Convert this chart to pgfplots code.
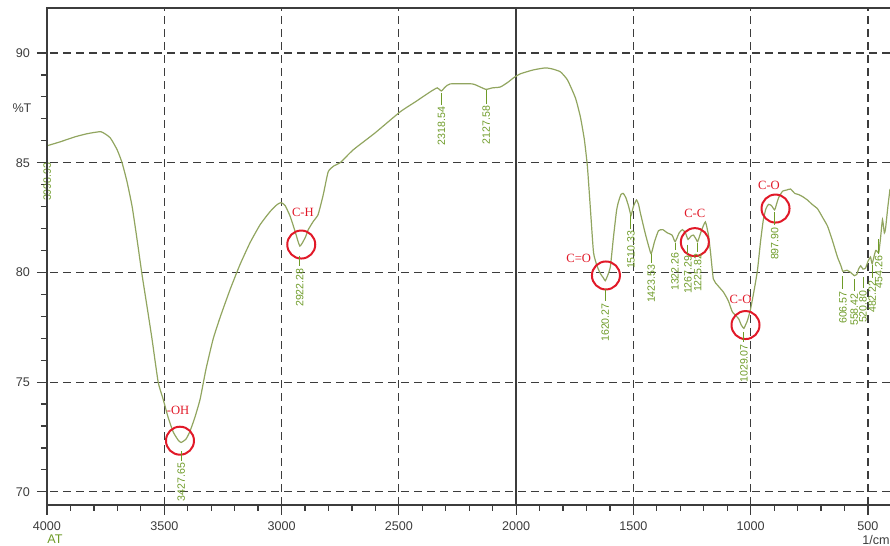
\documentclass[border=0pt]{standalone}
\usepackage{fontspec}
\setmainfont{Liberation Sans}
\newfontfamily\bandfont{Liberation Serif}
\usepackage{pgfplots}
\pgfplotsset{compat=1.18}

\definecolor{spectrum}{RGB}{145,165,95}
\definecolor{peakgreen}{RGB}{110,155,40}
\definecolor{ringred}{RGB}{225,25,40}
\definecolor{gridgray}{RGB}{60,60,60}
\definecolor{axisgray}{RGB}{60,60,60}

% peak marker: wavenumber, top and bottom of leader line, label
\newcommand{\pk}[4]{\draw[peakgreen,line width=0.5pt] (axis cs:#1,#2) -- (axis cs:#1,#3)
  node[anchor=east,rotate=90,font=\fontsize{5.3}{6}\selectfont,inner sep=0.8pt,text=peakgreen]{#4};}
% band assignment text
\newcommand{\band}[3]{\node[font=\bandfont\fontsize{6.3}{7}\selectfont,text=ringred,inner sep=0pt] at (axis cs:#1,#2) {#3};}

\begin{document}
\begin{tikzpicture}
\begin{axis}[
  scale only axis, width=421.5pt, height=248.5pt,
  x dir=reverse, xmin=406, xmax=4000, ymin=69.4, ymax=92.05,
  xtick={500,1000,...,4000}, ytick={70,75,...,90},
  minor x tick num=4, minor y tick num=4,
  xtick pos=bottom, ytick pos=left, tick align=outside,
  major tick length=5pt, minor tick length=3pt,
  every tick/.style={axisgray, line width=0.6pt},
  grid=major,
  major grid style={gridgray, dash pattern=on 4pt off 2.5pt, line width=0.6pt},
  axis line style={draw=none},
  tick label style={font=\fontsize{6.3}{7}\selectfont, text=axisgray},
  /pgf/number format/assume math mode=true,
  /pgf/number format/set thousands separator={},
  clip mode=individual,
]

% solid reference line at 2000 1/cm
\draw[gridgray, line width=0.7pt] (axis cs:2000,69.4) -- (axis cs:2000,92.05);

% transmittance spectrum
\addplot[spectrum, line width=0.6pt, smooth, tension=0.3] coordinates {
(4000,85.77) (3944,85.95) (3880,86.18) (3829,86.32) (3770,86.41)
(3731,86.14) (3701,85.59) (3680,85.0) (3659,84.14) (3637,83.0)
(3616,81.5) (3595,79.91) (3573,78.41) (3552,76.95) (3526,75.0)
(3505,74.23) (3484,73.41) (3462,72.73) (3441,72.36) (3428,72.25)
(3407,72.41) (3390,72.77) (3369,73.41) (3347,74.23) (3322,75.6)
(3292,76.95) (3262,77.95) (3219,79.23) (3177,80.36) (3134,81.36)
(3091,82.18) (3049,82.77) (3019,83.09) (3002,83.18) (2985,83.05)
(2963,82.55) (2942,81.86) (2922,81.2) (2899,81.59) (2886,81.95)
(2865,82.32) (2844,82.64) (2822,83.55) (2801,84.59) (2776,84.86)
(2750,85.0) (2694,85.59) (2601,86.36) (2494,87.32) (2430,87.77)
(2366,88.23) (2336,88.41) (2319,88.27) (2302,88.45) (2281,88.59)
(2187,88.59) (2153,88.45) (2128,88.34) (2101,88.41) (2067,88.45)
(2033,88.68) (2012,88.86) (1982,89.05) (1926,89.23) (1875,89.32)
(1845,89.27) (1811,89.14) (1781,88.77) (1747,87.95) (1726,87.09)
(1709,86.05) (1696,84.82) (1683,82.86) (1670,80.91) (1655,80.3)
(1641,79.95) (1628,79.75) (1620,79.62) (1610,79.85) (1598,80.27)
(1585,81.6) (1572,82.8) (1564,83.2) (1553,83.55) (1543,83.6)
(1532,83.4) (1520,83.0) (1510,82.6) (1500,83.0) (1487,83.3)
(1478,83.1) (1470,82.7) (1450,81.8) (1435,81.2) (1424,80.85)
(1410,81.4) (1393,81.9) (1375,81.95) (1355,81.8) (1335,81.7)
(1322,81.4) (1305,81.8) (1291,81.95) (1278,81.8) (1267,81.5)
(1255,81.65) (1244,81.7) (1232,81.5) (1226,81.4) (1210,81.9)
(1193,82.3) (1180,81.7) (1171,80.9) (1159,79.7) (1140,79.4)
(1116,79.1) (1095,78.7) (1078,78.2) (1052,77.9) (1040,77.6)
(1029,77.45) (1020,77.65) (1014,77.8) (1001,78.3) (985,79.2)
(971,80.1) (958,81.4) (946,82.4) (935,82.9) (924,83.1)
(912,83.05) (898,82.85) (890,83.1) (881,83.4) (864,83.7)
(848,83.75) (830,83.8) (812,83.6) (796,83.55) (778,83.45)
(758,83.3) (738,83.1) (715,82.9) (693,82.5) (672,82.1)
(650,81.4) (630,80.7) (615,80.3) (607,80.05) (590,80.1)
(574,80.0) (558,79.85) (548,79.9) (540,80.15) (531,80.3)
(521,80.15) (510,80.2) (500,80.5) (489,80.7) (482,80.4)
(467,81.0) (454,80.9) (446,81.6) (438,82.4) (430,81.8)
(425,82.0) (415,83.0) (406,83.8)
};

% assigned bands
\addplot[only marks, mark=o, mark size=7pt, ringred, line width=1pt] coordinates {
(3433,72.33) (2916,81.27) (1617,79.86) (1238,81.38) (1022,77.6) (894,82.91)
};
\band{3441}{73.7}{-OH}
\band{2909}{82.74}{C-H}
\band{1733}{80.62}{C=O}
\band{1238}{82.67}{C-C}
\band{1043}{78.77}{C-O}
\band{922}{83.95}{C-O}

% peak picks
\pk{3998.93}{85.6}{85.1}{3998.93}
\pk{3427.65}{71.86}{71.41}{3427.65}
\pk{2922.28}{80.77}{80.27}{2922.28}
\pk{2318.54}{88.18}{87.64}{2318.54}
\pk{2127.58}{88.32}{87.68}{2127.58}
\pk{1620.27}{79.23}{78.68}{1620.27}
\pk{1510.33}{82.6}{82.0}{1510.33}
\pk{1423.53}{80.82}{80.45}{1423.53}
\pk{1322.26}{81.36}{81.0}{1322.26}
\pk{1267.29}{81.27}{80.86}{1267.29}
\pk{1225.82}{81.36}{80.95}{1225.82}
\pk{1029.07}{77.27}{76.82}{1029.07}
\pk{897.90}{82.73}{82.14}{897.90}
\pk{606.57}{79.82}{79.23}{606.57}
\pk{558.42}{79.68}{79.14}{558.42}
\pk{520.80}{79.77}{79.27}{520.80}
\pk{482.22}{80.32}{79.73}{482.22}
\pk{454.26}{81.5}{80.86}{454.26}

% axis captions
\node[font=\fontsize{6.3}{7}\selectfont, text=axisgray] at (axis cs:4000,87.5) [xshift=-12.5pt] {\%T};
\node[font=\fontsize{6.3}{7}\selectfont, text=peakgreen] at (axis cs:4000,69.4) [xshift=4pt, yshift=-17pt] {AT};
\node[font=\fontsize{6.3}{7}\selectfont, text=axisgray] at (axis cs:406,69.4) [xshift=-7pt, yshift=-17.5pt] {1/cm};
\end{axis}

% frame: left, top and bottom sides
\draw[axisgray, line width=0.8pt] (current axis.north east) -- (current axis.north west)
  -- (current axis.south west) -- (current axis.south east);

\pgfresetboundingbox
\useasboundingbox ([xshift=-23.5pt,yshift=-20.5pt]current axis.south west)
  rectangle ([yshift=4pt]current axis.north east);
\end{tikzpicture}
\end{document}
